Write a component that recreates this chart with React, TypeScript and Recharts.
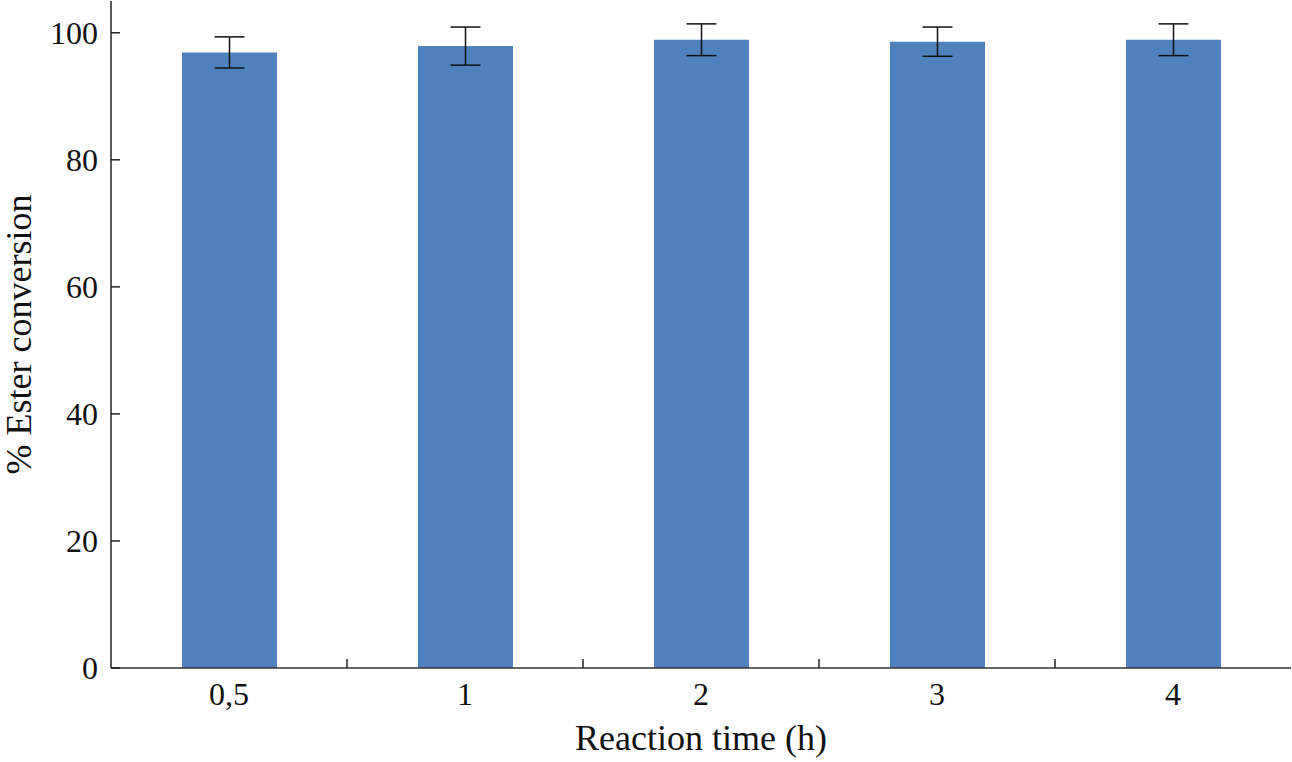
import { BarChart, Bar, XAxis, YAxis, ErrorBar, Label } from "recharts";

const times = ["0,5", "1", "2", "3", "4"];
const conversion = [96.9, 97.9, 98.9, 98.6, 98.9];
const errors = [2.45, 3.0, 2.5, 2.3, 2.5];
const yTicks = [0, 20, 40, 60, 80, 100];

const data = times.map((t, i) => ({ time: t, value: conversion[i], err: errors[i] }));

const font = "'Liberation Serif', 'Times New Roman', serif";
const tickStyle = { fontFamily: font, fontSize: 32, fill: "#111" };
const titleStyle = { fontFamily: font, fontSize: 36, fill: "#111" };
const TICK_GAP = 14;

// category label plus a small inward tick at the right edge of each band
const TimeTick = (props: any) => {
    const { x, y, payload, index, visibleTicksCount } = props;
    const half = payload?.offset || 118;
    const axisY = y - TICK_GAP;
    return (
        <g>
            <text x={x} y={y} dy="0.71em" textAnchor="middle" style={tickStyle}>
                {payload.value}
            </text>
            {index < visibleTicksCount - 1 && (
                <line
                    x1={x + half}
                    x2={x + half}
                    y1={axisY}
                    y2={axisY - 9}
                    stroke="#222"
                    strokeWidth={1.5}
                />
            )}
        </g>
    );
};

export default function App() {
    return (
        <div style={{ position: "absolute", left: 0, top: 0, background: "#fff" }}>
            <BarChart
                width={1292}
                height={762}
                data={data}
                margin={{ top: 1, right: 1, left: 0, bottom: 0 }}
            >
                <XAxis
                    dataKey="time"
                    height={94}
                    tickLine={false}
                    tickSize={0}
                    tickMargin={TICK_GAP}
                    tick={<TimeTick />}
                    interval={0}
                    axisLine={{ stroke: "#333", strokeWidth: 1.5 }}
                >
                    <Label
                        value="Reaction time (h)"
                        position="insideBottom"
                        offset={12}
                        style={titleStyle}
                    />
                </XAxis>
                <YAxis
                    width={111}
                    domain={[0, 105]}
                    ticks={yTicks}
                    tickSize={-9}
                    tickMargin={22}
                    tick={tickStyle}
                    tickLine={{ stroke: "#222", strokeWidth: 1.5 }}
                    axisLine={{ stroke: "#222", strokeWidth: 1.5 }}
                >
                    <Label
                        content={({ viewBox }: any) => {
                            const cy = viewBox.y + viewBox.height / 2;
                            return (
                                <text
                                    x={31}
                                    y={cy}
                                    transform={`rotate(-90, 31, ${cy})`}
                                    textAnchor="middle"
                                    style={titleStyle}
                                >
                                    % Ester conversion
                                </text>
                            );
                        }}
                    />
                </YAxis>
                <Bar dataKey="value" fill="#4F81BD" barSize={95} isAnimationActive={false}>
                    <ErrorBar dataKey="err" width={15} stroke="#111" strokeWidth={1.5} />
                </Bar>
            </BarChart>
        </div>
    );
}
